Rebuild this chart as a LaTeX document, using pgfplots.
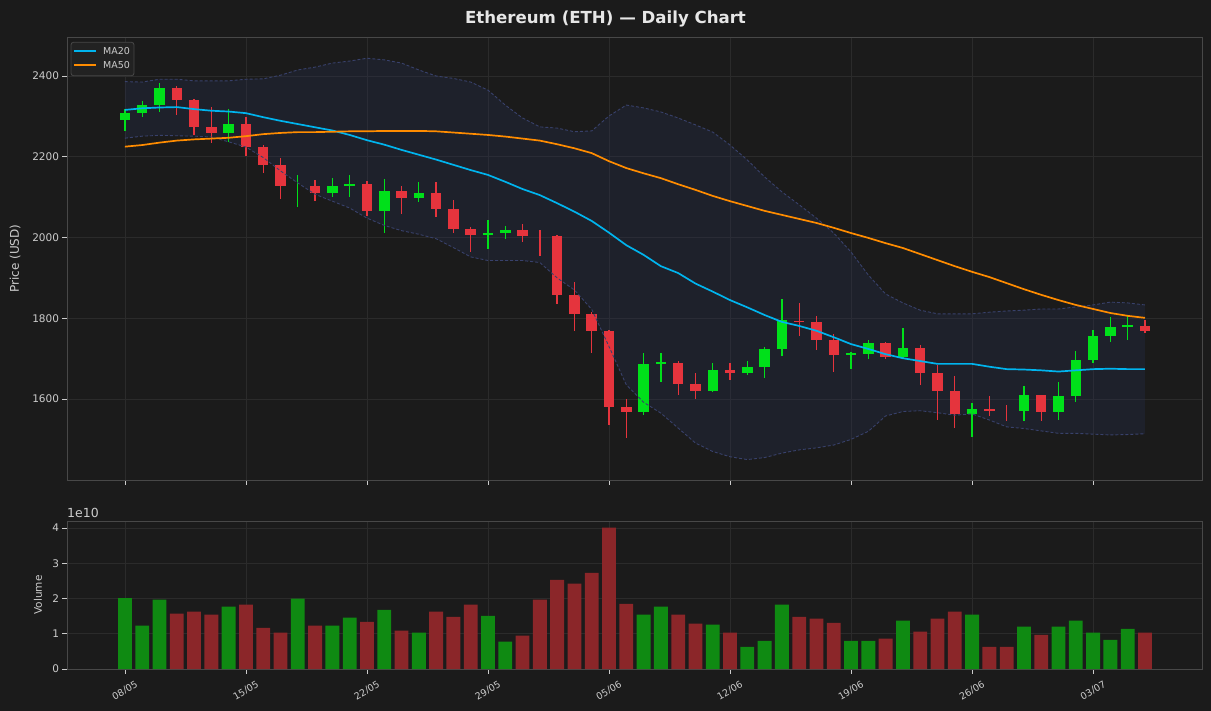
\documentclass[border=0pt]{standalone}
\usepackage{pgfplots}
\pgfplotsset{compat=1.18}
\usepackage{pgfplotstable}
\usepackage{fontspec}
\setmainfont{DejaVu Sans}

\definecolor{bg}{HTML}{1B1B1B}
\definecolor{gridc}{HTML}{2B2B2B}
\definecolor{spine}{HTML}{484848}
\definecolor{txt}{HTML}{CCCCCC}
\definecolor{titlec}{HTML}{E6E6E6}
\definecolor{cgreen}{HTML}{00E01A}
\definecolor{cred}{HTML}{E5343D}
\definecolor{vgreen}{HTML}{0F8A12}
\definecolor{vred}{HTML}{8B2629}
\definecolor{bandfill}{HTML}{282F50}
\definecolor{bandline}{HTML}{38416B}
\definecolor{mablue}{HTML}{00B4EE}
\definecolor{maorange}{HTML}{FF8C00}
\definecolor{legbg}{HTML}{222222}

\pgfplotstableread{
x o h l c v
0 2291 2318 2265 2308 2.01
1 2309 2338 2299 2328 1.23
2 2329 2383 2312 2370 1.97
6 2260 2318 2237 2281 1.77
10 2128 2155 2076 2128 2.00
12 2111 2147 2101 2128 1.23
13 2128 2154 2101 2133 1.46
15 2066 2145 2010 2115 1.68
17 2099 2138 2088 2110 1.03
21 2007 2043 1972 2011 1.51
22 2011 2029 1996 2019 0.78
30 1569 1714 1560 1687 1.54
31 1687 1714 1643 1691 1.77
34 1621 1689 1617 1672 1.26
36 1665 1694 1659 1679 0.63
37 1680 1729 1653 1724 0.80
38 1725 1848 1707 1796 1.83
42 1710 1716 1674 1714 0.80
43 1712 1746 1699 1739 0.80
45 1705 1776 1699 1726 1.37
49 1564 1590 1507 1575 1.54
52 1571 1632 1546 1610 1.20
54 1569 1642 1549 1607 1.20
55 1608 1719 1593 1697 1.37
56 1697 1771 1690 1756 1.03
57 1757 1803 1742 1778 0.83
58 1779 1808 1747 1784 1.14
}\upcandles

\pgfplotstableread{
x o h l c v
3 2370 2375 2303 2341 1.57
4 2341 2342 2254 2274 1.63
5 2274 2324 2233 2260 1.54
7 2281 2299 2203 2225 1.83
8 2225 2229 2160 2180 1.17
9 2180 2198 2096 2128 1.03
11 2128 2142 2091 2111 1.23
14 2133 2141 2054 2066 1.34
16 2115 2128 2058 2099 1.09
18 2110 2138 2052 2071 1.63
19 2071 2093 2012 2022 1.48
20 2021 2027 1965 2007 1.83
23 2019 2033 1990 2004 0.95
24 2004 2019 1955 2004 1.97
25 2004 2005 1835 1858 2.53
26 1858 1890 1769 1811 2.42
27 1811 1816 1715 1769 2.73
28 1769 1771 1535 1581 4.01
29 1580 1600 1504 1569 1.85
32 1689 1694 1610 1638 1.54
33 1637 1664 1600 1621 1.29
35 1672 1689 1647 1665 1.03
39 1794 1838 1757 1790 1.48
40 1791 1806 1721 1746 1.43
41 1746 1761 1667 1709 1.31
44 1739 1740 1699 1705 0.86
46 1726 1734 1635 1665 1.06
47 1665 1684 1548 1621 1.43
48 1621 1657 1529 1564 1.63
50 1576 1607 1559 1571 0.63
51 1572 1585 1546 1572 0.63
53 1610 1611 1546 1569 0.97
59 1782 1796 1764 1769 1.03
}\downcandles

\pgfplotstableread{
x ma20 ma50 bbu bbl
0 2316 2225 2386 2246
1 2320 2229 2385 2251
2 2322 2235 2392 2253
3 2323 2240 2392 2252
4 2318 2243 2388 2251
5 2314 2245 2388 2249
6 2312 2247 2388 2237
7 2308 2251 2392 2224
8 2298 2256 2393 2198
9 2289 2259 2402 2165
10 2281 2261 2415 2135
11 2273 2261 2422 2107
12 2265 2262 2432 2090
13 2254 2263 2437 2073
14 2241 2263 2444 2048
15 2230 2264 2440 2030
16 2217 2264 2432 2017
17 2205 2264 2415 2008
18 2193 2263 2400 1997
19 2180 2260 2394 1975
20 2167 2257 2385 1952
21 2155 2254 2365 1943
22 2138 2250 2328 1943
23 2120 2245 2296 1943
24 2105 2240 2274 1938
25 2085 2231 2271 1900
26 2064 2221 2262 1870
27 2041 2209 2264 1822
28 2012 2189 2301 1730
29 1981 2172 2328 1635
30 1957 2159 2321 1592
31 1929 2147 2311 1565
32 1912 2132 2296 1528
33 1886 2118 2279 1491
34 1866 2103 2261 1470
35 1845 2090 2229 1457
36 1827 2078 2192 1450
37 1808 2066 2150 1455
38 1791 2056 2113 1466
39 1781 2046 2081 1474
40 1769 2036 2048 1479
41 1753 2024 2011 1486
42 1736 2011 1964 1500
43 1724 1999 1907 1520
44 1711 1986 1860 1558
45 1701 1974 1838 1569
46 1694 1959 1820 1571
47 1687 1944 1811 1566
48 1687 1929 1811 1560
49 1687 1915 1811 1563
50 1680 1902 1815 1548
51 1674 1887 1818 1531
52 1673 1872 1820 1527
53 1671 1858 1823 1521
54 1668 1845 1823 1515
55 1671 1833 1828 1515
56 1674 1823 1833 1513
57 1675 1813 1840 1511
58 1674 1806 1838 1512
59 1674 1801 1833 1514
}\lines

% Bollinger band outline: upper band forward, lower band backward
\pgfplotstableread{
x y
0 2386
1 2385
2 2392
3 2392
4 2388
5 2388
6 2388
7 2392
8 2393
9 2402
10 2415
11 2422
12 2432
13 2437
14 2444
15 2440
16 2432
17 2415
18 2400
19 2394
20 2385
21 2365
22 2328
23 2296
24 2274
25 2271
26 2262
27 2264
28 2301
29 2328
30 2321
31 2311
32 2296
33 2279
34 2261
35 2229
36 2192
37 2150
38 2113
39 2081
40 2048
41 2011
42 1964
43 1907
44 1860
45 1838
46 1820
47 1811
48 1811
49 1811
50 1815
51 1818
52 1820
53 1823
54 1823
55 1828
56 1833
57 1840
58 1838
59 1833
59 1514
58 1512
57 1511
56 1513
55 1515
54 1515
53 1521
52 1527
51 1531
50 1548
49 1563
48 1560
47 1566
46 1571
45 1569
44 1558
43 1520
42 1500
41 1486
40 1479
39 1474
38 1466
37 1455
36 1450
35 1457
34 1470
33 1491
32 1528
31 1565
30 1592
29 1635
28 1730
27 1822
26 1870
25 1900
24 1938
23 1943
22 1943
21 1943
20 1952
19 1975
18 1997
17 2008
16 2017
15 2030
14 2048
13 2073
12 2090
11 2107
10 2135
9 2165
8 2198
7 2224
6 2237
5 2249
4 2251
3 2252
2 2253
1 2251
0 2246
}\bandpoly

\pgfplotsset{
  darkax/.style={
    scale only axis, width=1135bp,
    axis background/.style={fill=bg},
    axis line style={spine, line width=0.9bp},
    grid=major, major grid style={gridc, line width=0.8bp},
    tick pos=left, tick align=outside, major tick length=4.5bp,
    tick style={txt, line width=0.8bp},
    ticklabel style={font=\fontsize{10.5bp}{12bp}\selectfont, text=txt},
    /pgf/number format/assume math mode=true,
    /pgf/number format/1000 sep={},
    scaled y ticks=false,
    xmin=-3.35, xmax=62.3,
    xtick={0,7,14,21,28,35,42,49,56},
  },
  candle/.style 2 args={only marks, mark=*, mark size=0pt,
    mark options={draw=none, fill=none, opacity=0}, forget plot,
    error bars/.cd, y dir=both, y explicit, error mark=none,
    error bar style={line width=#2, draw=#1, solid, opacity=1}},
}

\begin{document}
\begin{tikzpicture}
\fill[bg] (0,0) rectangle (1211bp,-711bp);
\node[anchor=base, text=titlec, font=\fontsize{16.6bp}{19bp}\selectfont\bfseries] at (605.5bp,-23bp) {Ethereum (ETH) — Daily Chart};

\begin{axis}[darkax,
  at={(67bp,-37bp)}, anchor=north west, height=443bp,
  ymin=1399.4, ymax=2496.6,
  ytick={1600,1800,2000,2200,2400},
  xticklabels={},
  ylabel={Price (USD)},
  ylabel style={at={(axis description cs:-0.0458,0.5)}, anchor=center, font=\fontsize{12bp}{14bp}\selectfont, text=txt},
]
\addplot[fill=bandfill, fill opacity=0.3, draw=none, forget plot] table[x=x, y=y] {\bandpoly} -- cycle;

\addplot[candle={cgreen}{1.3bp}] table[x=x, y expr={(\thisrow{h}+\thisrow{l})/2}, y error expr={(\thisrow{h}-\thisrow{l})/2}] {\upcandles};
\addplot[candle={cred}{1.3bp}] table[x=x, y expr={(\thisrow{h}+\thisrow{l})/2}, y error expr={(\thisrow{h}-\thisrow{l})/2}] {\downcandles};
\addplot[candle={cgreen}{10.5bp}] table[x=x, y expr={(\thisrow{o}+\thisrow{c})/2}, y error expr={abs(\thisrow{c}-\thisrow{o})/2}] {\upcandles};
\addplot[candle={cred}{10.5bp}] table[x=x, y expr={(\thisrow{o}+\thisrow{c})/2}, y error expr={abs(\thisrow{c}-\thisrow{o})/2}] {\downcandles};

\addplot[bandline, dash pattern=on 3bp off 2bp, line width=0.9bp, forget plot] table[x=x, y=bbu] {\lines};
\addplot[bandline, dash pattern=on 3bp off 2bp, line width=0.9bp, forget plot] table[x=x, y=bbl] {\lines};

\addplot[mablue, line width=1.7bp, mark=none, forget plot] table[x=x, y=ma20] {\lines};
\addplot[maorange, line width=1.7bp, mark=none, forget plot] table[x=x, y=ma50] {\lines};
\end{axis}

% legend
\draw[fill=legbg, draw=spine, line width=0.8bp, rounded corners=2.5bp] (71bp,-42.3bp) rectangle (134bp,-75.7bp);
\draw[mablue, line width=1.6bp] (74bp,-50.7bp) -- (96bp,-50.7bp);
\draw[maorange, line width=1.6bp] (74bp,-65bp) -- (96bp,-65bp);
\node[anchor=west, inner sep=0pt, text=txt, font=\fontsize{9.5bp}{11bp}\selectfont] at (103bp,-50.7bp) {MA20};
\node[anchor=west, inner sep=0pt, text=txt, font=\fontsize{9.5bp}{11bp}\selectfont] at (103bp,-65bp) {MA50};

\begin{axis}[darkax,
  at={(67bp,-521bp)}, anchor=north west, height=148bp,
  ymin=0, ymax=4.2,
  ytick={0,1,2,3,4},
  xticklabels={08/05,15/05,22/05,29/05,05/06,12/06,19/06,26/06,03/07},
  xticklabel style={font=\fontsize{9.5bp}{11bp}\selectfont, anchor=center, yshift=-17bp, rotate=30},
  ylabel={Volume},
  ylabel style={at={(axis description cs:-0.0256,0.5)}, anchor=center, font=\fontsize{10.5bp}{12bp}\selectfont, text=txt},
]
\addplot[ybar, bar width=0.8, bar shift=0pt, fill=vgreen, draw=none, forget plot] table[x=x, y=v] {\upcandles};
\addplot[ybar, bar width=0.8, bar shift=0pt, fill=vred, draw=none, forget plot] table[x=x, y=v] {\downcandles};
\end{axis}

\node[anchor=base west, text=txt, font=\fontsize{12.5bp}{14bp}\selectfont, inner sep=0pt] at (67bp,-517bp) {1e10};

\pgfresetboundingbox
\useasboundingbox (0,0) rectangle (1211bp,-711bp);
\end{tikzpicture}
\end{document}
